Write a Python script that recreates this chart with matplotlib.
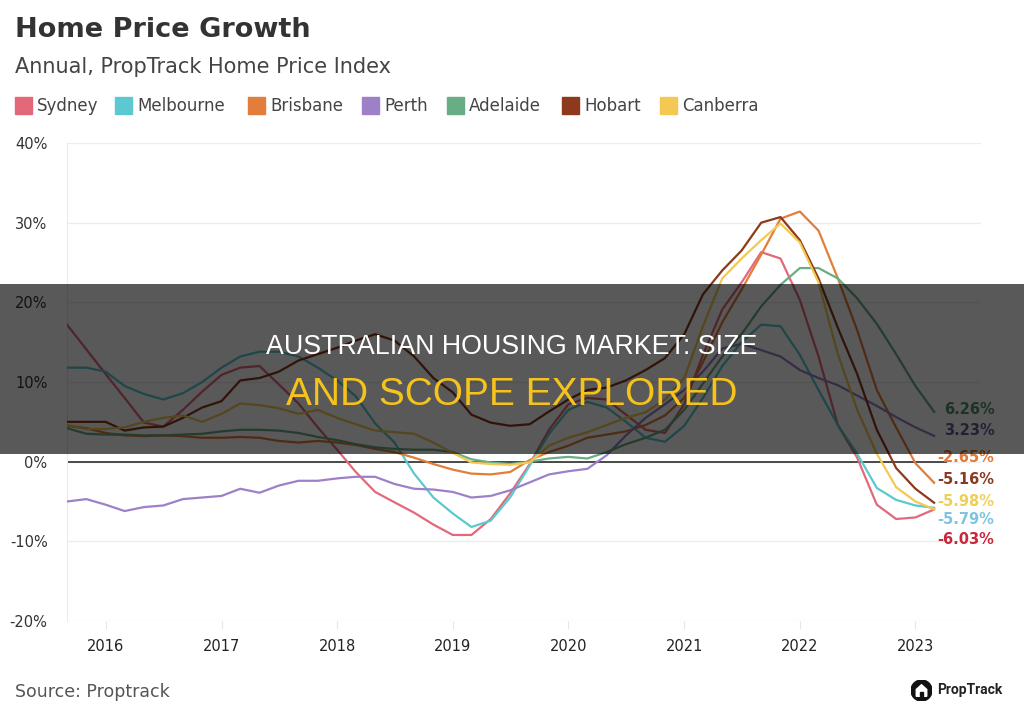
import matplotlib
matplotlib.use('Agg')
import matplotlib.pyplot as plt
from matplotlib.patches import Rectangle, Circle, Polygon
import pandas as pd

# bi-monthly readings, Sep 2015 .. Mar 2023 (annual growth, %)
dates = pd.date_range('2015-09-01', '2023-03-01', freq='2MS')

sydney = [17.2, 14.1, 11.0, 8.0, 4.9, 4.4, 6.5, 8.8, 10.9, 11.8, 12.0, 9.7,
          7.3, 4.3, 1.5, -1.3, -3.8, -5.1, -6.4, -7.9, -9.2, -9.2, -7.2, -4.0,
          -0.3, 4.0, 7.2, 8.0, 7.8, 5.9, 4.0, 3.6, 7.2, 13.4, 19.1, 22.5,
          26.3, 25.5, 20.3, 13.2, 4.6, 0.5, -5.4, -7.2, -7.0, -6.0]
melbourne = [11.8, 11.8, 11.3, 9.5, 8.5, 7.8, 8.6, 10.0, 11.8, 13.2, 13.8, 13.8,
             13.2, 11.8, 10.2, 8.2, 4.8, 2.4, -1.5, -4.5, -6.5, -8.2, -7.4, -4.5,
             -0.5, 3.5, 6.5, 7.5, 6.8, 5.0, 3.0, 2.5, 4.5, 8.0, 12.0, 15.0,
             17.2, 17.0, 13.4, 9.0, 4.6, 1.0, -3.3, -4.8, -5.5, -5.8]
brisbane = [4.5, 4.2, 3.6, 3.3, 3.2, 3.3, 3.2, 3.0, 3.0, 3.1, 3.0, 2.6,
            2.4, 2.6, 2.4, 2.1, 1.6, 1.2, 0.5, -0.3, -1.0, -1.5, -1.6, -1.3,
            0.2, 1.2, 2.0, 3.0, 3.4, 3.8, 4.6, 5.8, 8.0, 12.5, 17.5, 21.6,
            26.0, 30.5, 31.4, 29.0, 23.0, 16.5, 9.0, 4.3, -0.2, -2.65]
perth = [-5.0, -4.7, -5.4, -6.2, -5.7, -5.5, -4.7, -4.5, -4.3, -3.4, -3.9, -3.0,
         -2.4, -2.4, -2.1, -1.9, -1.9, -2.8, -3.4, -3.5, -3.8, -4.5, -4.3, -3.6,
         -2.6, -1.6, -1.2, -0.9, 0.8, 3.3, 5.5, 7.2, 9.0, 11.3, 14.2, 14.8,
         14.0, 13.2, 11.5, 10.5, 9.6, 8.3, 7.0, 5.6, 4.3, 3.23]
adelaide = [4.2, 3.5, 3.4, 3.4, 3.3, 3.3, 3.4, 3.5, 3.8, 4.0, 4.0, 3.9,
            3.6, 3.1, 2.7, 2.2, 1.8, 1.6, 1.5, 1.5, 1.2, 0.3, -0.1, -0.3,
            0.0, 0.4, 0.6, 0.4, 1.2, 2.2, 3.0, 4.0, 6.5, 9.8, 13.2, 16.0,
            19.5, 22.2, 24.3, 24.3, 23.0, 20.5, 17.3, 13.5, 9.5, 6.26]
hobart = [5.0, 5.0, 5.0, 3.9, 4.3, 4.4, 5.5, 6.8, 7.6, 10.2, 10.5, 11.3,
          12.7, 13.5, 14.3, 15.2, 16.0, 15.2, 13.2, 10.5, 8.7, 5.9, 4.9, 4.5,
          4.7, 6.3, 7.8, 9.0, 9.3, 10.2, 11.5, 13.0, 16.0, 21.0, 24.0, 26.5,
          30.0, 30.7, 27.8, 23.0, 16.8, 11.0, 4.0, -0.8, -3.4, -5.16]
canberra = [4.6, 4.1, 4.1, 4.3, 5.0, 5.5, 5.8, 5.0, 6.0, 7.3, 7.1, 6.7,
            6.0, 6.5, 5.5, 4.7, 3.9, 3.7, 3.5, 2.4, 1.1, -0.1, -0.3, -0.4,
            -0.1, 2.0, 3.0, 3.7, 4.6, 5.5, 6.2, 7.8, 10.5, 17.0, 23.0, 25.5,
            27.8, 29.9, 27.5, 22.5, 13.5, 6.5, 1.0, -3.2, -5.0, -5.98]

cities = ['Sydney', 'Melbourne', 'Brisbane', 'Perth', 'Adelaide', 'Hobart', 'Canberra']
values = [sydney, melbourne, brisbane, perth, adelaide, hobart, canberra]
line_colors = ['#e3697a', '#5bc9cf', '#e27d3a', '#9d80c8', '#69ad84', '#8c3a1b', '#f3c954']

end_labels = ['-6.03%', '-5.79%', '-2.65%', '3.23%', '6.26%', '-5.16%', '-5.98%']
end_label_colors = ['#c8283c', '#7cc4e2', '#e07b39', '#6a5a9a', '#4f8f6c', '#8b3a22', '#f0cf55']
end_label_y = [-9.8, -7.3, 0.5, 3.9, 6.5, -2.3, -5.0]

yticks = [-20, -10, 0, 10, 20, 30, 40]
years = list(range(2016, 2024))

W, H = 1024, 719
fig = plt.figure(figsize=(W / 100, H / 100), dpi=100)
fig.patch.set_facecolor('white')


def fx(px):
    return px / W


def fy(py):
    return 1 - py / H


ax = fig.add_axes([fx(67), fy(621), fx(981 - 67), (621 - 143) / H])

for name, vals, col in zip(cities, values, line_colors):
    ax.plot(dates, vals, color=col, lw=1.6, zorder=3, solid_joinstyle='round')

ax.hlines(0, dates[0], pd.Timestamp('2023-04-10'), color='#1a1a1a', lw=1.1, zorder=2)

for txt, col, yv in zip(end_labels, end_label_colors, end_label_y):
    off = 2.5 if txt.startswith('-') else 7.5
    ax.annotate(txt, xy=(dates[-1], yv), xytext=(off, 0), textcoords='offset points',
                va='center', ha='left', fontsize=10.5, fontweight='bold', color=col,
                annotation_clip=False, zorder=4)

ax.set_ylim(-20, 40)
ax.set_xlim(pd.Timestamp('2015-09-01'), pd.Timestamp('2023-07-27'))
ax.set_yticks(yticks)
ax.set_yticklabels([f'{v}%' for v in yticks])
ax.set_xticks([pd.Timestamp(f'{y}-01-01') for y in years])
ax.set_xticklabels([str(y) for y in years])
ax.grid(axis='y', color='#ececec', lw=1)
ax.set_axisbelow(True)
for s in ['top', 'right', 'bottom']:
    ax.spines[s].set_visible(False)
ax.spines['left'].set_color('#ececec')
ax.tick_params(axis='y', length=0, pad=14, labelsize=10.5, labelcolor='#333333')
ax.tick_params(axis='x', length=6, color='#e6e6e6', pad=7, labelsize=10.5, labelcolor='#222222')

# header
fig.text(fx(15), fy(37), 'Home Price Growth', fontsize=19.5, fontweight='bold',
         color='#333333', va='baseline')
fig.text(fx(15), fy(73), 'Annual, PropTrack Home Price Index', fontsize=15,
         color='#444444', va='baseline')

legend_x = [15, 115, 248, 362, 447, 562, 660]
for name, col, lx in zip(cities, line_colors, legend_x):
    fig.add_artist(Rectangle((fx(lx), fy(114)), 17 / W, 17 / H, color=col,
                             transform=fig.transFigure))
    fig.text(fx(lx + 22), fy(106), name, fontsize=12, color='#444444', va='center')

fig.text(fx(15), fy(692), 'Source: Proptrack', fontsize=12.5, color='#555555', va='center')

# logo
lax = fig.add_axes([fx(911), fy(701), 21 / W, 21 / H])
lax.set_xlim(-1, 1)
lax.set_ylim(-1, 1)
lax.set_aspect('equal')
lax.axis('off')
lax.add_patch(Circle((0, 0), 1, color='#111111'))
lax.add_patch(Polygon([(-0.5, -0.55), (-0.5, 0.1), (0, 0.55), (0.5, 0.1), (0.5, -0.55)],
                      closed=True, color='white'))
lax.add_patch(Rectangle((-0.15, -0.55), 0.3, 0.4, color='#111111'))
fig.text(fx(937), fy(690), 'PropTrack', fontsize=10, fontweight='bold',
         family='Roboto', color='#222222', va='center')

# banner overlay
fig.add_artist(Rectangle((0, fy(454)), 1, 170 / H, transform=fig.transFigure,
                         color='black', alpha=0.65, zorder=10, lw=0))
fig.text(0.5, fy(347), 'AUSTRALIAN HOUSING MARKET: SIZE', fontsize=19.3,
         family='Liberation Sans', color='white', ha='center', va='center', zorder=11)
fig.text(0.5, fy(395), 'AND SCOPE EXPLORED', fontsize=28, family='Liberation Sans',
         color='#f6c21c', ha='center', va='center', zorder=11)

fig.savefig('out.png', dpi=100)
